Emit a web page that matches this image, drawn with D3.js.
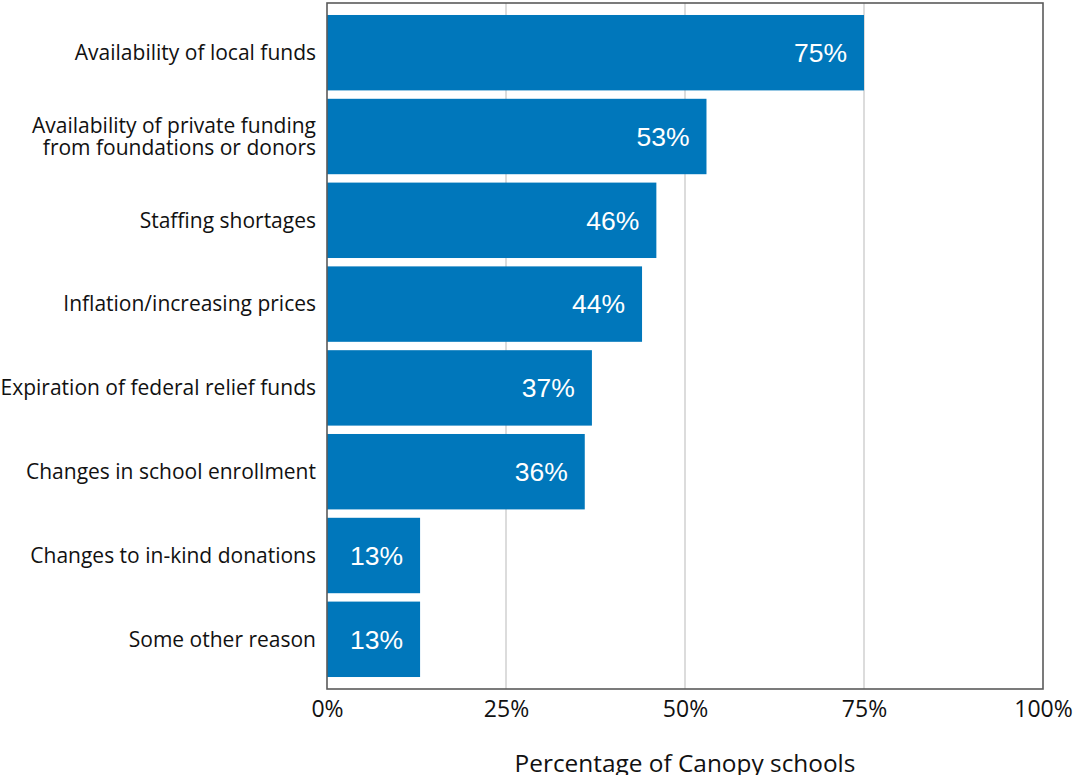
<!DOCTYPE html>
<html>
<head>
<meta charset="utf-8">
<script src="https://cdn.jsdelivr.net/npm/d3@7"></script>
<style>
  html, body { margin: 0; padding: 0; background: #fff; }
  svg { display: block; }
</style>
</head>
<body>
<svg id="chart" width="1073" height="775"></svg>
<script>
// Reasons cited, with share of schools citing each
const categories = [
  ["Availability of local funds"],
  ["Availability of private funding", "from foundations or donors"],
  ["Staffing shortages"],
  ["Inflation/increasing prices"],
  ["Expiration of federal relief funds"],
  ["Changes in school enrollment"],
  ["Changes to in-kind donations"],
  ["Some other reason"]
];
const values = [75, 53, 46, 44, 37, 36, 13, 13];
const tickValues = [0, 25, 50, 75, 100];
const axisTitle = "Percentage of Canopy schools";

const svg = d3.select("#chart");
const plotLeft = 327, plotRight = 1043, plotTop = 3, plotBottom = 689;

const x = d3.scaleLinear().domain([0, 100]).range([plotLeft, plotRight]);
const y = d3.scaleBand()
  .domain(d3.range(values.length))
  .range([10.8, 681.2])
  .paddingInner(0.1)
  .paddingOuter(0.05);

// vertical gridlines
svg.append("g")
  .selectAll("line")
  .data(tickValues.filter(t => t > 0 && t < 100))
  .join("line")
  .attr("x1", d => x(d)).attr("x2", d => x(d))
  .attr("y1", plotTop).attr("y2", plotBottom)
  .attr("stroke", "#d0d0d0")
  .attr("stroke-width", 1.5);

// bars
svg.append("g")
  .selectAll("rect")
  .data(values)
  .join("rect")
  .attr("x", x(0))
  .attr("y", (d, i) => y(i))
  .attr("width", d => x(d) - x(0))
  .attr("height", y.bandwidth())
  .attr("fill", "#0077bb");

// value labels inside the bars
svg.append("g")
  .selectAll("text")
  .data(values)
  .join("text")
  .attr("x", d => x(d) - 17)
  .attr("y", (d, i) => y(i) + y.bandwidth() / 2)
  .attr("dy", "0.35em")
  .attr("text-anchor", "end")
  .attr("fill", "#fff")
  .style("font-family", "'Liberation Sans', Arial, sans-serif")
  .style("font-size", "26.5px")
  .text(d => d + "%");

// plot frame
svg.append("rect")
  .attr("x", plotLeft).attr("y", plotTop)
  .attr("width", plotRight - plotLeft).attr("height", plotBottom - plotTop)
  .attr("fill", "none")
  .attr("stroke", "#5a5a5a")
  .attr("stroke-width", 1.6);

// category labels
const catG = svg.append("g")
  .style("font-family", "'Open Sans', sans-serif")
  .style("font-size", "21px")
  .attr("fill", "#111");
categories.forEach((lines, i) => {
  const cy = y(i) + y.bandwidth() / 2;
  const lh = 22;
  const t = catG.append("text")
    .attr("text-anchor", "end")
    .attr("x", plotLeft - 11)
    .attr("y", cy - (lines.length - 1) * lh / 2);
  lines.forEach((ln, j) => {
    t.append("tspan")
      .attr("x", plotLeft - 11)
      .attr("dy", j === 0 ? "0.35em" : lh)
      .text(ln);
  });
});

// x axis tick labels
const xAxis = d3.axisBottom(x)
  .tickValues(tickValues)
  .tickSize(0)
  .tickPadding(0)
  .tickFormat(d => d + "%");
const axG = svg.append("g")
  .attr("transform", `translate(0,${plotBottom + 11})`)
  .call(xAxis);
axG.select(".domain").remove();
axG.selectAll("text")
  .style("font-family", "'Open Sans', sans-serif")
  .style("font-size", "23px")
  .attr("fill", "#111")
  .attr("dy", "0.75em");

// axis title
svg.append("text")
  .attr("x", (plotLeft + plotRight) / 2)
  .attr("y", 772)
  .attr("text-anchor", "middle")
  .style("font-family", "'Open Sans', sans-serif")
  .style("font-size", "24.4px")
  .attr("fill", "#111")
  .text(axisTitle);
</script>
</body>
</html>
